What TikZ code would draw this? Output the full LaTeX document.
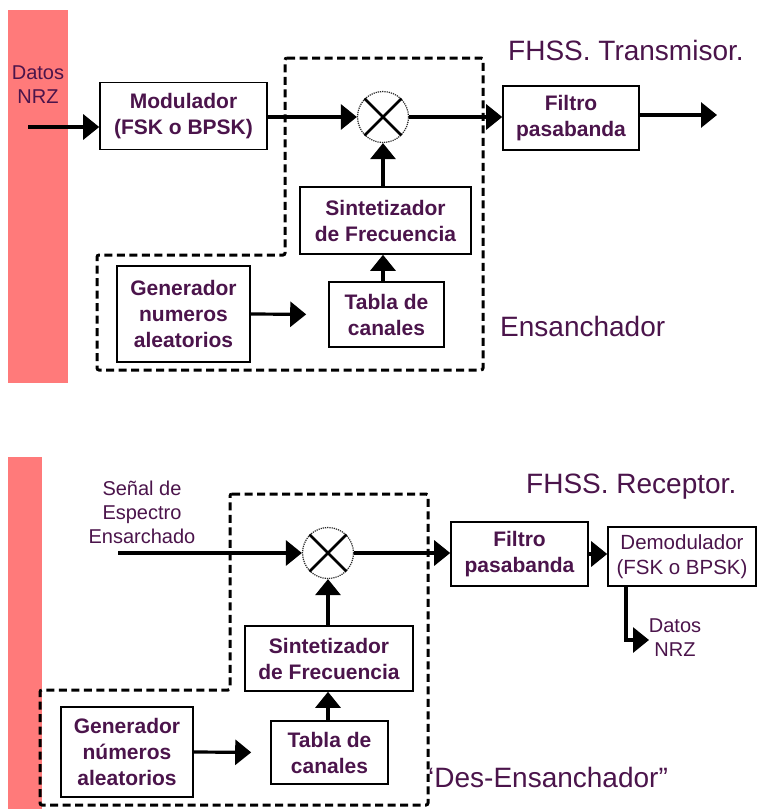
\documentclass[tikz,border=0pt]{standalone}
\usepackage{fontspec}
\setmainfont{Liberation Sans}
\usetikzlibrary{arrows.meta}
\definecolor{txt}{RGB}{75,20,75}
\definecolor{pinkbar}{RGB}{255,122,122}
\begin{document}
\begin{tikzpicture}[x=1pt,y=-1pt,
 blk/.style={draw, line width=1.6pt, text=txt, align=center, inner sep=0pt, font=\fontsize{21}{26}\selectfont\bfseries},
 blkr/.style={blk, font=\fontsize{20.5}{25}\selectfont},
 lbl/.style={text=txt, align=center, inner sep=0pt, font=\fontsize{20}{24}\selectfont},
 ttl/.style={text=txt, inner sep=0pt, font=\fontsize{28}{32}\selectfont},
 arr/.style={line width=3.2pt, -{Triangle[length=16pt,width=25pt]}},
 mixer/.style={circle, minimum size=51pt, inner sep=0pt, draw=black!85, line width=1.2pt, densely dotted},
 xmark/.style={line width=2.8pt},
 spread/.style={draw, line width=3pt, dash pattern=on 8pt off 4.5pt, rounded corners=2pt}]
\useasboundingbox (0,0) rectangle (757,809);
\fill[white] (0,0) rectangle (757,809);

% ---------- Transmisor ----------
\fill[pinkbar] (8,10) rectangle (68,383);
\node[lbl] (din) at (38,85) {Datos\\NRZ};
\node[blk, minimum width=167pt, minimum height=67pt] (mod) at (183.5,116) {Modulador\\(FSK o BPSK)};
\node[mixer] (mx1) at (383,117) {};
\draw[xmark] (mx1.45) -- (mx1.225) (mx1.135) -- (mx1.315);
\node[blk, minimum width=136pt, minimum height=64pt] (fil1) at (571,118) {Filtro\\pasabanda};
\node[blk, minimum width=171pt, minimum height=67pt] (sin1) at (385.5,220.5) {Sintetizador\\de Frecuencia};
\node[blk, minimum width=133pt, minimum height=96pt] (gen1) at (183.5,314) {Generador\\numeros\\aleatorios};
\node[blk, minimum width=115pt, minimum height=65pt] (tab1) at (386.5,314.5) {Tabla de\\canales};
\node[ttl, anchor=west] (t1) at (508,50) {FHSS. Transmisor.};
\node[ttl, anchor=west] (e1) at (500,326) {Ensanchador};
\coordinate (in1) at (28,127);
\coordinate (out1) at (717,115);
\draw[spread] (285,58) -- (483,58) -- (483,370) -- (97,370) -- (97,255) -- (285,255) -- cycle;
\draw[arr] (in1) -- (in1 -| mod.west);
\draw[arr] (mod.east |- mx1) -- (mx1.west);
\draw[arr] (mx1.east) -- (mx1 -| fil1.west);
\draw[arr] (fil1.east |- out1) -- (out1);
\draw[arr] (sin1.north -| mx1) -- (mx1.south);
\draw[arr] (tab1.north -| mx1) -- (sin1.south -| mx1);
\draw[arr, shorten >=22pt] (gen1.east) -- (tab1.west);

% ---------- Receptor ----------
\fill[pinkbar] (8,457) rectangle (42,809);
\node[lbl] (sen) at (142,512) {Señal de\\Espectro\\Ensarchado};
\coordinate (in2) at (118,553);
\node[mixer] (mx2) at (328,553) {};
\draw[xmark] (mx2.45) -- (mx2.225) (mx2.135) -- (mx2.315);
\node[blk, minimum width=137pt, minimum height=64pt] (fil2) at (519.5,554) {Filtro\\pasabanda};
\node[blkr, minimum width=148pt, minimum height=59pt] (dem) at (682,556.5) {Demodulador\\(FSK o BPSK)};
\coordinate (dk) at (626,640);
\coordinate (out2) at (649,640);
\node[lbl] (dat2) at (675,638) {Datos\\NRZ};
\node[ttl, anchor=west] (t2) at (526,487) {FHSS. Receptor.};
\node[blk, minimum width=168pt, minimum height=65pt] (sin2) at (329,658.5) {Sintetizador\\de Frecuencia};
\node[blk, minimum width=132pt, minimum height=90pt] (gen2) at (127,752) {Generador\\números\\aleatorios};
\node[blk, minimum width=117pt, minimum height=63pt] (tab2) at (329.5,752.5) {Tabla de\\canales};
\node[ttl, anchor=west] (e2) at (428,777) {‘Des-Ensanchador”};
\draw[spread] (230,494) -- (428,494) -- (428,805) -- (40,805) -- (40,690) -- (230,690) -- cycle;
\draw[arr] (in2) -- (mx2.west);
\draw[arr] (mx2.east) -- (mx2 -| fil2.west);
\draw[arr] (fil2.east) -- (fil2 -| dem.west);
\draw[arr] (dem.south -| dk) |- (out2);
\draw[arr] (sin2.north -| mx2) -- (mx2.south);
\draw[arr] (tab2.north -| mx2) -- (sin2.south -| mx2);
\draw[arr, shorten >=19pt] (gen2.east) -- (tab2.west);
\end{tikzpicture}
\end{document}
